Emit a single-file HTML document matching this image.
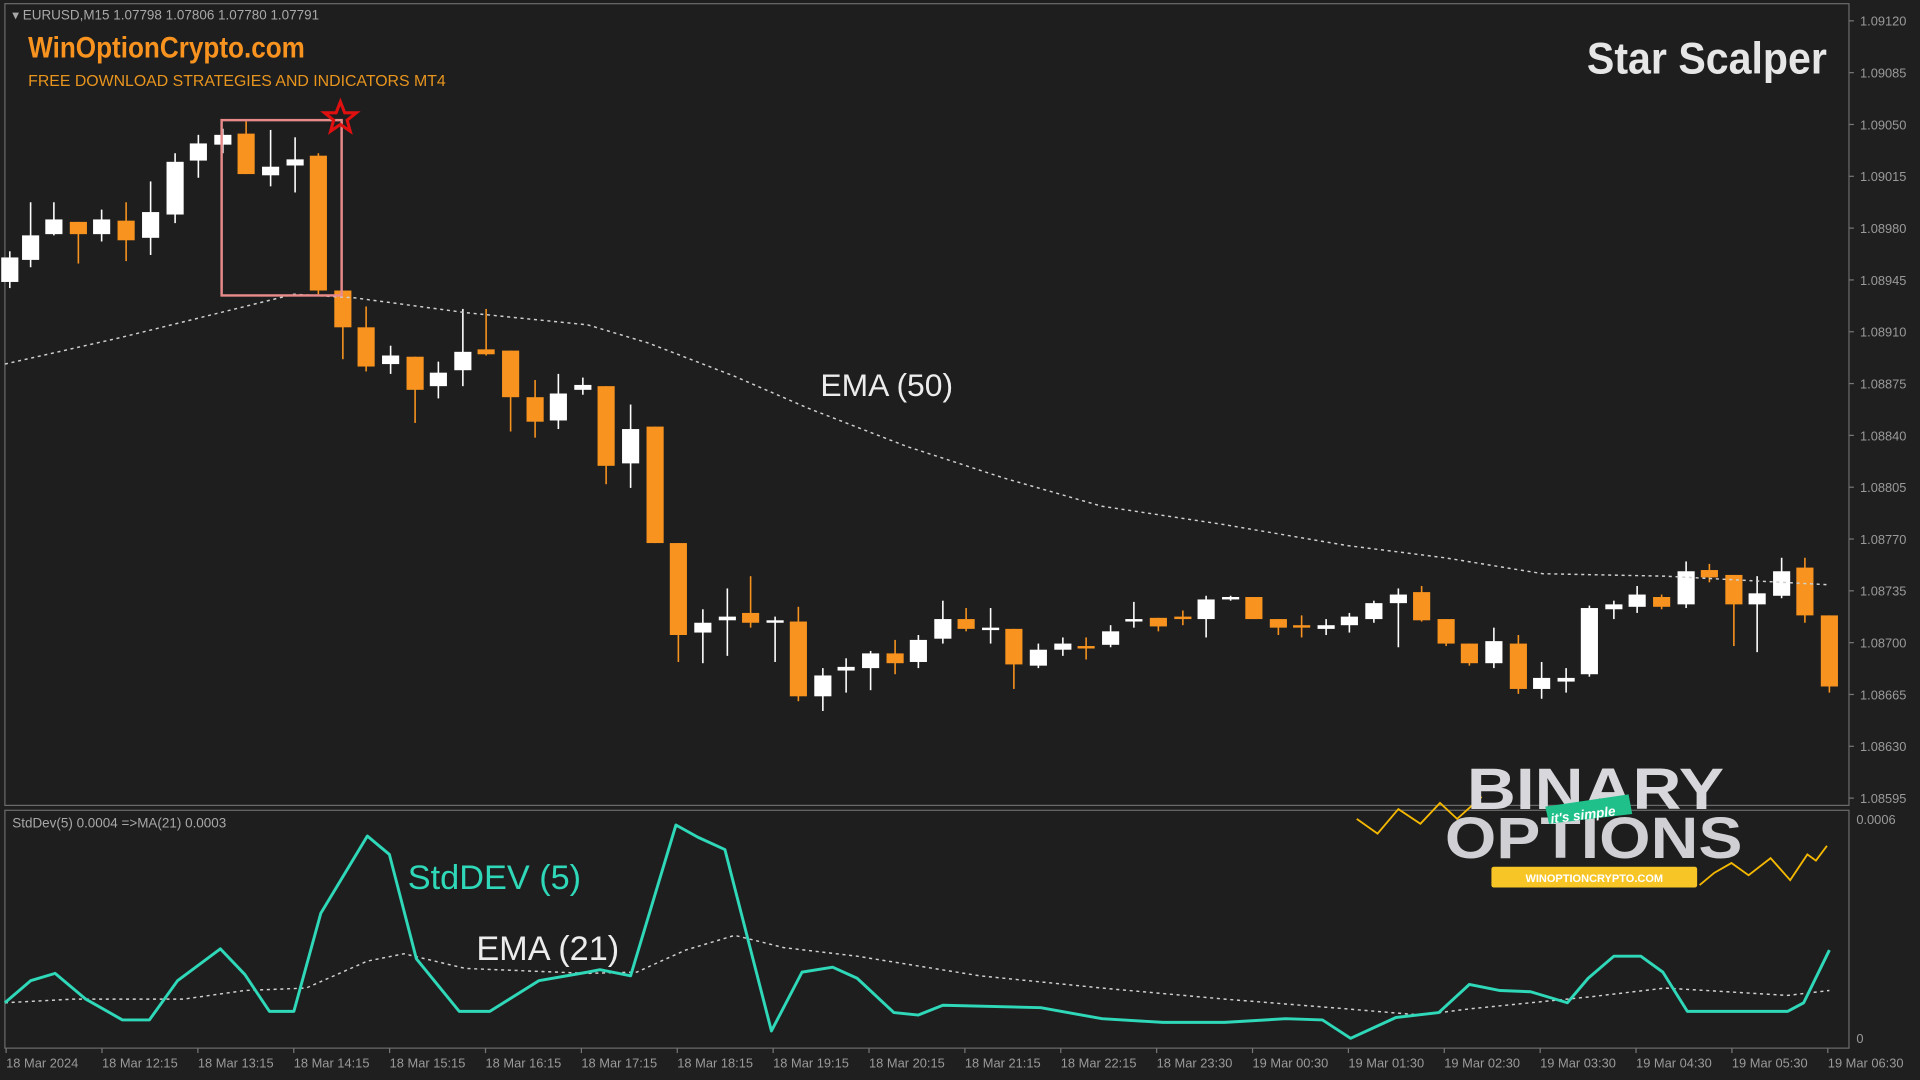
<!DOCTYPE html>
<html><head><meta charset="utf-8"><style>
html,body{margin:0;padding:0;background:#1e1e1e;overflow:hidden}
svg{display:block}
text{font-family:"Liberation Sans","DejaVu Sans",sans-serif}
</style></head><body>
<svg id="s" width="1920" height="1080" viewBox="0 0 1568 881" preserveAspectRatio="none" xmlns="http://www.w3.org/2000/svg">
<rect width="1568" height="881" fill="#1f1f1f"/>
<rect x="4" y="3" width="1506" height="654" fill="#1e1e1e" stroke="#6a6a6a" stroke-width="1"/>
<rect x="4" y="661" width="1506" height="194" fill="#1e1e1e" stroke="#6a6a6a" stroke-width="1"/>
<g id="axis" font-size="10.5" fill="#9a9a9a"></g>
<g id="candles"></g>
<polyline id="ema50" fill="none" stroke="#d0d0d0" stroke-width="1.2" stroke-dasharray="2.5,3"/>
<rect x="181" y="98" width="98" height="143" fill="none" stroke="#e88a8a" stroke-width="2"/>
<polygon points="278,83 281.5,92 291,92 283.5,98 286,107 278,101.5 270,107 272.5,98 265,92 274.5,92" fill="none" stroke="#e01010" stroke-width="2.5"/>
<text x="10" y="16" font-size="11" fill="#a8a8a8">▾ EURUSD,M15  1.07798 1.07806 1.07780 1.07791</text>
<text x="23" y="47" font-size="24" font-weight="bold" fill="#f7931e" textLength="226" lengthAdjust="spacingAndGlyphs">WinOptionCrypto.com</text>
<text x="23" y="70" font-size="12.5" fill="#e8951e" textLength="341" lengthAdjust="spacingAndGlyphs">FREE DOWNLOAD STRATEGIES AND INDICATORS MT4</text>
<text x="1296" y="60" font-size="36" font-weight="bold" fill="#e6e6e6" textLength="196" lengthAdjust="spacingAndGlyphs">Star Scalper</text>
<text x="670" y="323" font-size="26" fill="#ececec">EMA (50)</text>
<text x="10" y="675" font-size="11" fill="#a8a8a8">StdDev(5) 0.0004  =&gt;MA(21) 0.0003</text>
<polyline id="ema21" fill="none" stroke="#d0d0d0" stroke-width="1.2" stroke-dasharray="2.5,3"/>
<polyline id="sd" fill="none" stroke="#2fd8b8" stroke-width="2.4" stroke-linejoin="round"/>
<text x="333" y="725" font-size="28" fill="#2fd8b8">StdDEV (5)</text>
<text x="389" y="783" font-size="28" fill="#ececec">EMA (21)</text>
<!-- logo -->
<polyline points="1108,668 1125,680 1142,660 1160,672 1176,655 1190,668 1210,650" fill="none" stroke="#f5b800" stroke-width="1.5"/>
<polyline points="1388,722 1400,712 1414,704 1428,714 1446,700 1462,718 1476,697 1483,702 1492,690" fill="none" stroke="#f5b800" stroke-width="1.5"/>
<text x="1198" y="660" font-size="48" font-weight="bold" fill="#d8d8dc" textLength="210" lengthAdjust="spacingAndGlyphs">BINARY</text>
<text x="1180" y="700" font-size="48" font-weight="bold" fill="#d0d0d4" textLength="243" lengthAdjust="spacingAndGlyphs">OPTIONS</text>
<polygon points="1262,658 1330,648 1333,664 1265,672" fill="#1fc08a"/>
<text x="1266" y="668" font-size="11" font-style="italic" font-weight="bold" fill="#fff" transform="rotate(-7 1296 664)">it's simple</text>
<rect x="1218" y="707" width="168" height="17" rx="2" fill="#f7c525"/>
<text x="1302" y="719.5" font-size="9" font-weight="bold" fill="#fff" text-anchor="middle">WINOPTIONCRYPTO.COM</text>
</svg>
<script>
var s=document.getElementById('s'),NS='http://www.w3.org/2000/svg';
function el(p,t,a,tx){var e=document.createElementNS(NS,t);for(var k in a)e.setAttribute(k,a[k]);if(tx)e.textContent=tx;p.appendChild(e);return e;}
var ax=document.getElementById('axis');
var pr=['1.09120','1.09085','1.09050','1.09015','1.08980','1.08945','1.08910','1.08875','1.08840','1.08805','1.08770','1.08735','1.08700','1.08665','1.08630','1.08595'];
pr.forEach(function(p,i){var y=17+i*42.27;el(ax,'line',{x1:1510,x2:1514,y1:y,y2:y,stroke:'#777'});el(ax,'text',{x:1519,y:y+4},p);});
el(ax,'text',{x:1516,y:672},'0.0006');el(ax,'text',{x:1516,y:851},'0');
var tl=['18 Mar 2024','18 Mar 12:15','18 Mar 13:15','18 Mar 14:15','18 Mar 15:15','18 Mar 16:15','18 Mar 17:15','18 Mar 18:15','18 Mar 19:15','18 Mar 20:15','18 Mar 21:15','18 Mar 22:15','18 Mar 23:30','19 Mar 00:30','19 Mar 01:30','19 Mar 02:30','19 Mar 03:30','19 Mar 04:30','19 Mar 05:30','19 Mar 06:30'];
tl.forEach(function(t,i){var x=5+i*78.3;el(ax,'line',{x1:x,x2:x,y1:855,y2:859,stroke:'#777'});el(ax,'text',{x:x,y:871},t);});
var C=[[8,'W',210,230,205,235],[25,'W',192,212,165,218],[44,'W',179,191,165,192],[64,'O',181,191,181,215],[83,'W',179,191,171,197],[103,'O',180,196,165,213],[123,'W',173,194,148,208],[143,'W',132,175,125,182],[162,'W',117,131,110,145],[182,'W',110,118,105,125],[201,'O',109,142,99,142],[221,'W',136,143,106,152],[241,'W',130,135,112,157],[260,'O',127,237,125,240],[280,'O',237,267,237,293],[299,'O',267,299,250,303],[319,'W',290,297,282,305],[339,'O',291,318,291,345],[358,'W',304,315,295,325],[378,'W',287,302,252,315],[397,'O',285,289,252,290],[417,'O',286,324,286,352],[437,'O',324,344,310,357],[456,'W',321,343,305,350],[476,'W',314,318,308,322],[495,'O',315,380,315,395],[515,'W',350,378,330,398],[535,'O',348,443,348,443],[554,'O',443,518,443,540],[574,'W',508,516,497,541],[594,'W',503,506,480,535],[613,'O',500,508,470,512],[633,'W',506,508,503,540],[652,'O',507,568,495,572],[672,'W',551,568,545,580],[691,'W',544,547,537,565],[711,'W',533,545,531,563],[731,'O',533,541,522,550],[750,'W',522,540,518,545],[770,'W',505,521,490,525],[789,'O',505,513,496,515],[809,'W',512,514,496,525],[828,'O',513,542,513,562],[848,'W',530,543,525,545],[868,'W',525,530,520,535],[887,'O',527,529,520,538],[907,'W',515,526,510,528],[926,'W',505,507,491,512],[946,'O',504,511,504,515],[966,'O',503,505,498,510],[985,'W',489,505,486,520],[1005,'W',487,489,486,490],[1024,'O',487,505,487,505],[1044,'O',505,512,505,518],[1063,'O',510,512,502,520],[1083,'W',510,513,505,518],[1102,'W',503,510,500,516],[1122,'W',492,505,490,508],[1142,'W',485,492,480,528],[1161,'O',483,506,478,507],[1181,'O',505,525,505,527],[1200,'O',525,541,525,543],[1220,'W',523,541,512,545],[1240,'O',525,562,518,566],[1259,'W',553,562,540,570],[1279,'W',553,556,545,565],[1298,'W',496,550,494,552],[1318,'W',493,497,490,505],[1337,'W',485,495,478,500],[1357,'O',487,495,485,497],[1377,'W',466,493,458,496],[1396,'O',465,471,460,475],[1416,'O',469,493,469,527],[1435,'W',484,493,470,532],[1455,'W',466,486,455,488],[1474,'O',463,502,455,508],[1494,'O',502,560,502,565]];
var cg=document.getElementById('candles');
C.forEach(function(c){var col=c[1]=='W'?'#ffffff':'#f7931e';el(cg,'line',{x1:c[0],x2:c[0],y1:c[4],y2:c[5],stroke:col,'stroke-width':1.3});var h=Math.max(2,c[3]-c[2]);el(cg,'rect',{x:c[0]-7,y:c[2],width:14,height:h,fill:col});});
function pl(id,a){document.getElementById(id).setAttribute('points',a.map(function(p){return p.join(',')}).join(' '));}
pl('ema50',[[4,297],[100,275],[180,255],[240,240],[290,243],[380,255],[480,265],[530,280],[600,307],[660,333],[740,364],[820,390],[900,413],[1000,428],[1100,445],[1180,455],[1260,468],[1360,470],[1493,477]]);
pl('sd',[[4,818],[25,800],[45,794],[70,815],[100,832],[122,832],[145,800],[180,774],[200,795],[220,825],[240,825],[262,745],[300,682],[318,697],[340,782],[375,825],[400,825],[440,800],[480,793],[490,791],[515,796],[552,673],[570,683],[592,693],[630,841],[655,793],[680,789],[700,798],[730,826],[750,828],[770,820],[850,822],[900,831],[950,834],[1000,834],[1050,831],[1080,832],[1103,847],[1140,830],[1175,826],[1200,803],[1225,808],[1250,809],[1280,818],[1297,798],[1318,780],[1340,780],[1358,793],[1378,825],[1460,825],[1473,818],[1494,775]]);
pl('ema21',[[4,818],[60,815],[150,815],[200,808],[250,806],[300,784],[330,778],[380,790],[480,794],[520,793],[560,775],[600,763],[640,773],[700,780],[800,796],[900,806],[1000,815],[1100,823],[1160,828],[1200,823],[1300,813],[1360,806],[1460,812],[1494,808]]);
</script>
</body></html>
